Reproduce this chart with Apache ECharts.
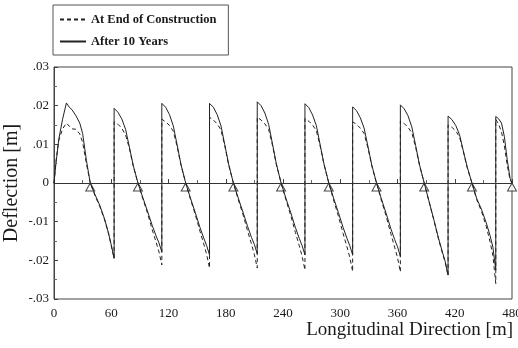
<!DOCTYPE html>
<html>
<head>
<meta charset="utf-8">
<script src="https://cdn.jsdelivr.net/npm/echarts@6/dist/echarts.min.js"></script>
<style>
html,body{margin:0;padding:0;background:#fff;}
#chart{width:518px;height:348px;}
</style>
</head>
<body>
<div id="chart"></div>
<script>
// Longitudinal positions [m] (hinges repeated to draw the jumps)
const positions = [
  0,2,5,9,13,16,19,23,27,30,34,38,43,48,53,57,60,63,
  63,67,71,75,79,83,88,93,98,103,107,110,113,
  113,117,121,125,129,133,138,143,148,153,157,160,163,
  163,167,171,175,179,183,188,193,198,203,207,210,213,
  213,217,221,225,229,233,238,243,248,253,257,260,263,
  263,267,271,275,279,283,288,293,298,303,307,310,313,
  313,317,321,325,329,333,338,343,348,353,357,360,363,
  363,367,371,375,379,383,388,393,398,403,407,410,413,
  413,417,421,425,429,433,438,443,448,453,457,460,463,
  463,466,469,472,475,478,480
];
// Deflection after 10 years [m] (solid)
const afterTenYears = [
  0,0.005,0.0113,0.0165,0.0207,0.0196,0.0189,0.0174,0.0155,0.0128,0.0058,0,-0.003,-0.0058,-0.0093,-0.0128,-0.016,-0.0195,
  0.0193,0.0183,0.0166,0.0139,0.0093,0.0046,0,-0.0037,-0.0073,-0.011,-0.0137,-0.0155,-0.0178,
  0.0206,0.0196,0.0177,0.0148,0.0099,0.0049,0,-0.0039,-0.0076,-0.0115,-0.0143,-0.0162,-0.0186,
  0.0206,0.0196,0.0177,0.0148,0.0099,0.0049,0,-0.0038,-0.0075,-0.0113,-0.0141,-0.0159,-0.0183,
  0.021,0.02,0.0181,0.0151,0.0101,0.005,0,-0.0039,-0.0076,-0.0115,-0.0143,-0.0162,-0.0186,
  0.0205,0.0195,0.0176,0.0148,0.0098,0.0049,0,-0.0039,-0.0076,-0.0115,-0.0143,-0.0162,-0.0186,
  0.0197,0.0187,0.0169,0.0142,0.0095,0.0047,0,-0.004,-0.0078,-0.0118,-0.0146,-0.0165,-0.019,
  0.0202,0.0192,0.0174,0.0145,0.0097,0.0048,0,-0.0047,-0.0094,-0.0143,-0.0178,-0.0203,-0.0238,
  0.0173,0.0164,0.0149,0.0125,0.0083,0.0042,0,-0.004,-0.0068,-0.0103,-0.0136,-0.0166,-0.0225,
  0.0172,0.0166,0.0155,0.012,0.006,0.0012,0
];
// Deflection at end of construction [m] (dashed)
const endOfConstruction = [
  0,0.0055,0.011,0.014,0.0155,0.0147,0.014,0.0139,0.0127,0.0105,0.005,0,-0.0033,-0.0061,-0.0095,-0.013,-0.0162,-0.0195,
  0.0158,0.0152,0.0142,0.0124,0.009,0.0044,0,-0.004,-0.0078,-0.0121,-0.0153,-0.0178,-0.0212,
  0.0165,0.0158,0.0149,0.0134,0.0095,0.0047,0,-0.0042,-0.0081,-0.0125,-0.0158,-0.0185,-0.022,
  0.017,0.0163,0.0153,0.0137,0.0096,0.0047,0,-0.0042,-0.0081,-0.0125,-0.0158,-0.0185,-0.022,
  0.017,0.0163,0.0153,0.0138,0.0097,0.0048,0,-0.0043,-0.0083,-0.0128,-0.0162,-0.0189,-0.0225,
  0.0167,0.016,0.015,0.0135,0.0095,0.0047,0,-0.0044,-0.0085,-0.0131,-0.0165,-0.0192,-0.0229,
  0.0158,0.0152,0.0142,0.0128,0.0091,0.0045,0,-0.0044,-0.0085,-0.0131,-0.0166,-0.0193,-0.023,
  0.016,0.0154,0.0144,0.013,0.0093,0.0046,0,-0.0048,-0.0095,-0.0145,-0.0181,-0.0205,-0.024,
  0.015,0.0144,0.0135,0.0119,0.0081,0.004,0,-0.0043,-0.0073,-0.0112,-0.0152,-0.0188,-0.026,
  0.0165,0.0152,0.0132,0.0096,0.0046,0.0008,0
];
// Support (pier) positions [m]
const supports = [38,88,138,188,238,288,338,388,438,480];
// Tick labels
const xTickValues = [0,60,120,180,240,300,360,420,480];
const xTickLabels = ['0','60','120','180','240','300','360','420','480'];
const yTickValues = [-0.03,-0.02,-0.01,0,0.01,0.02,0.03];
const yTickLabels = ['-.03','-.02','-.01','0','.01','.02','.03'];

const serif = '"Liberation Serif", "DejaVu Serif", serif';
const ink = '#1a1a1a';

function lookup(vals, labs, v) {
  for (let i = 0; i < vals.length; i++) if (Math.abs(vals[i] - v) < 1e-9) return labs[i];
  return '';
}

const chart = echarts.init(document.getElementById('chart'), null, {renderer: 'canvas'});
chart.setOption({
  animation: false,
  backgroundColor: '#fff',
  grid: {left: 54, right: 6, top: 67, bottom: 49, outerBoundsMode: 'none', containLabel: false,
         show: true, borderColor: '#444', borderWidth: 1, backgroundColor: 'transparent'},
  legend: {
    data: ['At End of Construction', 'After 10 Years'],
    orient: 'vertical', left: 53, top: 5,
    padding: [8, 12, 7, 6], itemGap: 9, itemWidth: 26, itemHeight: 10,
    borderColor: '#555', borderWidth: 1,
    itemStyle: {opacity: 0},
    textStyle: {fontFamily: serif, fontSize: 12.5, fontWeight: 'bold', color: ink}
  },
  graphic: [{
    type: 'text', right: 5, top: 321, silent: true,
    style: {text: 'Longitudinal Direction [m]', font: '19px ' + serif, fill: ink}
  }],
  xAxis: {
    type: 'value', min: 0, max: 480, interval: 60,
    axisLine: {show: true, lineStyle: {color: '#444', width: 1}},
    axisTick: {show: true, inside: true, length: 4, lineStyle: {color: '#444'}},
    minorTick: {show: true, splitNumber: 2, length: 3, lineStyle: {color: '#666'}},
    splitLine: {show: false},
    axisLabel: {fontFamily: serif, fontSize: 13, color: ink, margin: 8,
      formatter: v => lookup(xTickValues, xTickLabels, v)}
  },
  yAxis: {
    type: 'value', min: -0.03, max: 0.03, interval: 0.01,
    name: 'Deflection [m]', nameLocation: 'middle', nameGap: 32, nameMoveOverlap: false,
    nameTextStyle: {fontFamily: serif, fontSize: 20, color: ink},
    axisLine: {show: true, lineStyle: {color: '#444', width: 1}},
    axisTick: {show: true, inside: true, length: 4, lineStyle: {color: '#444'}},
    minorTick: {show: true, splitNumber: 2, length: 3, lineStyle: {color: '#666'}},
    splitLine: {show: false},
    axisLabel: {fontFamily: serif, fontSize: 13, color: ink, margin: 5,
      formatter: v => lookup(yTickValues, yTickLabels, v)}
  },
  series: [
    {
      name: 'Supports', type: 'scatter', z: 1,
      data: supports.map(x => [x, 0]),
      symbol: 'triangle', symbolSize: [9, 8], symbolOffset: [0, 4],
      itemStyle: {color: '#fff', borderColor: ink, borderWidth: 1},
      silent: true
    },
    {
      name: 'At End of Construction', type: 'line', z: 3,
      data: positions.map((x, i) => [x, endOfConstruction[i]]),
      symbol: 'none', showSymbol: false,
      lineStyle: {color: '#222', width: 1, type: [4, 3]},
      itemStyle: {color: '#222'}
    },
    {
      name: 'After 10 Years', type: 'line', z: 3,
      data: positions.map((x, i) => [x, afterTenYears[i]]),
      symbol: 'none', showSymbol: false,
      lineStyle: {color: '#222', width: 1, type: 'solid'},
      itemStyle: {color: '#222'},
      markLine: {
        silent: true, symbol: 'none', label: {show: false},
        lineStyle: {color: '#333', width: 1, type: 'solid'},
        data: [{yAxis: 0}]
      }
    }
  ]
});
</script>
</body>
</html>
